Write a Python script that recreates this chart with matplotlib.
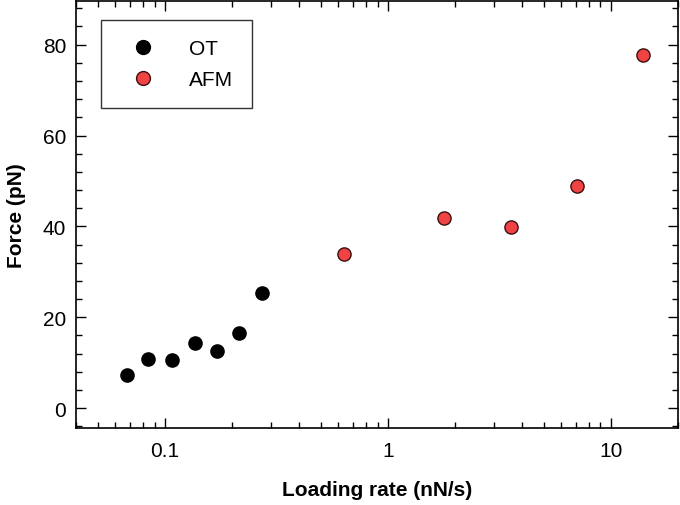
import matplotlib.pyplot as plt
from matplotlib.ticker import LogLocator, MultipleLocator, FixedLocator, FixedFormatter

plt.rcParams['font.family'] = ['Liberation Sans', 'DejaVu Sans']

# OT data
otRate = [0.068, 0.084, 0.108, 0.137, 0.171, 0.215, 0.274]
otForce = [7.2, 10.8, 10.5, 14.4, 12.5, 16.6, 25.3]

# AFM data
afmRate = [0.635, 1.78, 3.57, 7.06, 13.96]
afmForce = [33.9, 41.9, 39.8, 48.9, 77.8]

xTicks = [0.1, 1, 10]
xTickLabels = ['0.1', '1', '10']

fig = plt.figure(figsize=(6.8, 5.06), dpi=100)
ax = fig.add_axes([0.1118, 0.152, 0.885, 0.844])

ax.plot(otRate, otForce, 'o', color='black', markersize=9.5, label='OT')
ax.plot(afmRate, afmForce, 'o', color='#f04444', markeredgecolor='#3a1010',
        markeredgewidth=1.0, markersize=9.5, label='AFM')

ax.set_xscale('log')
ax.set_xlim(0.04, 20)
ax.set_ylim(-4.4, 89.6)

ax.xaxis.set_major_locator(FixedLocator(xTicks))
ax.xaxis.set_major_formatter(FixedFormatter(xTickLabels))
ax.xaxis.set_minor_locator(LogLocator(base=10, subs=range(2, 10)))
ax.xaxis.set_minor_formatter(FixedFormatter([]))
ax.yaxis.set_major_locator(MultipleLocator(20))
ax.yaxis.set_minor_locator(MultipleLocator(4))

ax.tick_params(which='both', direction='in', top=True, right=True, labelsize=15)
ax.tick_params(which='major', length=7, width=1)
ax.tick_params(which='minor', length=4, width=1)
ax.tick_params(axis='x', pad=9)
ax.tick_params(axis='y', pad=7)
for s in ax.spines.values():
    s.set_linewidth(1.2)

ax.set_xlabel('Loading rate (nN/s)', fontsize=15, fontweight='bold', labelpad=15)
ax.set_ylabel('Force (pN)', fontsize=15, fontweight='bold', labelpad=12)

leg = ax.legend(loc='upper left', bbox_to_anchor=(0.042, 0.955), fontsize=15,
                frameon=True, fancybox=False, edgecolor='black', borderpad=0.9,
                handletextpad=1.1, labelspacing=0.6, borderaxespad=0,
                markerscale=1.05, handlelength=2.2)
leg.get_frame().set_linewidth(1.0)

fig.savefig('out.png', dpi=100)
